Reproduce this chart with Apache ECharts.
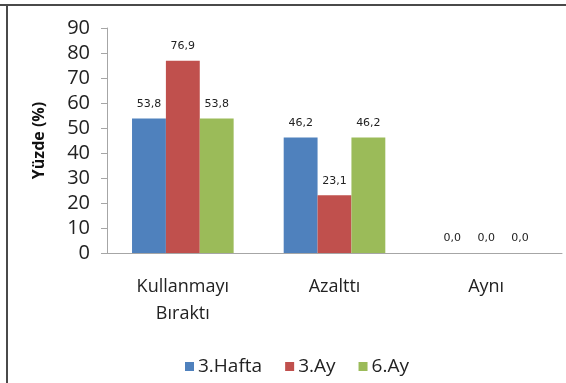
<!DOCTYPE html>
<html>
<head>
<meta charset="utf-8">
<script src="https://cdn.jsdelivr.net/npm/echarts@6/dist/echarts.min.js"></script>
<style>
  html, body { margin: 0; padding: 0; background: #fff; }
  #chart { width: 566px; height: 383px; }
</style>
</head>
<body>
<div id="chart"></div>
<script>
// Categories and percentages per follow-up period
const categories = ['Kullanmayı\nBıraktı', 'Azalttı', 'Aynı'];
const seriesNames = ['3.Hafta', '3.Ay', '6.Ay'];
const hafta3 = [53.8, 46.2, 0.0];
const ay3 = [76.9, 23.1, 0.0];
const ay6 = [53.8, 46.2, 0.0];
const yTicks = [0, 10, 20, 30, 40, 50, 60, 70, 80, 90];

const colors = ['#4f81bd', '#c0504d', '#9bbb59'];
const font = '"Open Sans", "DejaVu Sans", sans-serif';

const chart = echarts.init(document.getElementById('chart'));

function barSeries(name, data, color) {
  return {
    name: name,
    type: 'bar',
    data: data,
    barGap: '0%',
    barCategoryGap: '33%',
    itemStyle: { color: color },
    label: {
      show: true,
      position: 'top',
      distance: 9,
      formatter: p => p.value.toFixed(1).replace('.', ','),
      color: '#222',
      fontSize: 11,
      fontFamily: '"DejaVu Sans", sans-serif'
    }
  };
}

chart.setOption({
  animation: false,
  backgroundColor: '#fff',
  color: colors,
  grid: { left: 107, right: 4, top: 28, bottom: 130 },
  graphic: [
    { type: 'line', shape: { x1: 0, y1: 5, x2: 566, y2: 5 }, style: { stroke: '#4a4a4a', lineWidth: 2 } },
    { type: 'line', shape: { x1: 7, y1: 5, x2: 7, y2: 383 }, style: { stroke: '#4a4a4a', lineWidth: 2 } }
  ],
  legend: {
    data: seriesNames,
    bottom: 2,
    left: 180,
    itemWidth: 9,
    itemHeight: 9,
    itemGap: 23,
    icon: 'rect',
    textStyle: { fontSize: 19, color: '#222', fontFamily: font, padding: [0, 0, 0, -1] }
  },
  xAxis: {
    type: 'category',
    data: categories,
    axisLine: { lineStyle: { color: '#a6a6a6', width: 1 } },
    axisTick: { show: false },
    axisLabel: {
      color: '#222',
      fontSize: 18,
      fontFamily: font,
      margin: 20,
      lineHeight: 27
    }
  },
  yAxis: {
    type: 'value',
    min: yTicks[0],
    max: yTicks[yTicks.length - 1],
    interval: 10,
    name: 'Yüzde (%)',
    nameLocation: 'middle',
    nameGap: 60,
    nameTextStyle: { fontSize: 16, fontWeight: 'bold', color: '#111', fontFamily: font },
    axisLine: { show: true, lineStyle: { color: '#a6a6a6' } },
    axisTick: { show: true, length: 6, lineStyle: { color: '#a6a6a6' } },
    splitLine: { show: false },
    axisLabel: { color: '#222', fontSize: 20, fontFamily: font, margin: 17 }
  },
  series: [
    barSeries(seriesNames[0], hafta3, colors[0]),
    barSeries(seriesNames[1], ay3, colors[1]),
    barSeries(seriesNames[2], ay6, colors[2])
  ]
});
</script>
</body>
</html>
